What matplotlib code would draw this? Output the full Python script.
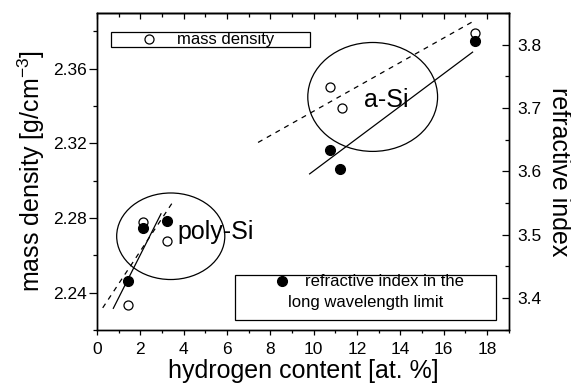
import matplotlib
matplotlib.use('Agg')
import matplotlib.pyplot as plt
from matplotlib.patches import Ellipse, Rectangle
from matplotlib.ticker import MultipleLocator

plt.rcParams['font.family'] = ['Liberation Sans', 'DejaVu Sans']
plt.rcParams['mathtext.fontset'] = 'custom'
plt.rcParams['mathtext.rm'] = 'Liberation Sans'

# mass density (open circles, left axis)
h_dens = [1.43, 2.10, 3.25, 10.73, 11.29, 17.43]
density = [2.2336, 2.278, 2.2675, 2.3505, 2.339, 2.379]
# refractive index (filled circles, right axis)
h_ref = [1.44, 2.10, 3.25, 10.73, 11.23, 17.43]
ref_index = [3.427, 3.510, 3.521, 3.634, 3.603, 3.806]

# fit lines (end points)
dens_fit_poly_x = [0.26, 3.55]
dens_fit_poly_y = [2.2318, 2.2895]
dens_fit_asi_x = [7.43, 17.48]
dens_fit_asi_y = [2.3205, 2.3862]
ref_fit_poly_x = [0.75, 2.95]
ref_fit_poly_y = [3.384, 3.533]
ref_fit_asi_x = [9.81, 17.33]
ref_fit_asi_y = [3.596, 3.788]

# group ellipses (centre x, centre y, width, height) in left-axis units
groups = ['poly-Si', 'a-Si']
ell_x = [3.40, 12.72]
ell_y = [2.2702, 2.3449]
ell_w = [4.99, 5.99]
ell_h = [0.0464, 0.0584]
lab_x = [3.73, 12.34]
lab_y = [2.2727, 2.3434]

fig = plt.figure(figsize=(5.71, 3.89), dpi=100)
ax = fig.add_axes([0.170, 0.152, 0.891 - 0.170, 0.967 - 0.152])
ax2 = ax.twinx()

ax.plot(h_dens, density, 'o', mfc='white', mec='black', ms=6.5, mew=0.9, zorder=5)
ax.plot(dens_fit_poly_x, dens_fit_poly_y, color='black', lw=0.9, dashes=(4, 4))
ax.plot(dens_fit_asi_x, dens_fit_asi_y, color='black', lw=0.9, dashes=(4, 4))

ax2.plot(h_ref, ref_index, 'o', color='black', ms=7, zorder=5)
ax2.plot(ref_fit_poly_x, ref_fit_poly_y, color='black', lw=0.9)
ax2.plot(ref_fit_asi_x, ref_fit_asi_y, color='black', lw=0.9)

for i in range(len(groups)):
    ax.add_patch(Ellipse((ell_x[i], ell_y[i]), ell_w[i], ell_h[i],
                         fill=False, ec='black', lw=0.9))
    ax.text(lab_x[i], lab_y[i], groups[i], fontsize=18, va='center', ha='left')

ax.set_xlim(0, 19)
ax.set_ylim(2.22, 2.39)
ax2.set_ylim(3.35, 3.85)

ax.xaxis.set_major_locator(MultipleLocator(2))
ax.xaxis.set_minor_locator(MultipleLocator(1))
ax.yaxis.set_major_locator(MultipleLocator(0.04))
ax.yaxis.set_minor_locator(MultipleLocator(0.02))
ax.yaxis.set_major_formatter(matplotlib.ticker.FormatStrFormatter('%.2f'))
ax2.yaxis.set_major_locator(MultipleLocator(0.1))
ax2.yaxis.set_minor_locator(MultipleLocator(0.05))
ax2.yaxis.set_major_formatter(matplotlib.ticker.FormatStrFormatter('%.1f'))

ax.tick_params(axis='x', which='major', direction='out', length=3.5, width=0.9,
               labelsize=12.5, pad=5)
ax.tick_params(axis='x', which='minor', direction='out', length=1.8, width=0.9)
ax.tick_params(axis='y', which='major', direction='out', length=5.5, width=0.9,
               labelsize=12.5, pad=2)
ax.tick_params(axis='y', which='minor', direction='out', length=3, width=0.9)
ax2.tick_params(axis='y', which='major', direction='in', length=5, width=0.9,
                labelsize=12.5, pad=6)
ax2.tick_params(axis='y', which='minor', direction='in', length=3, width=0.9)

top = ax.secondary_xaxis('top')
top.xaxis.set_major_locator(MultipleLocator(2))
top.xaxis.set_minor_locator(MultipleLocator(1))
top.tick_params(which='major', direction='in', length=4.5, width=0.9, labeltop=False)
top.tick_params(which='minor', direction='in', length=3, width=0.9)
top.spines['top'].set_linewidth(1.0)

for a in (ax, ax2):
    for s in a.spines.values():
        s.set_linewidth(1.0)

ax.set_xlabel('hydrogen content [at. %]', fontsize=18, labelpad=2)
ax.set_ylabel('mass density [g/cm$^{-3}$]', fontsize=18, labelpad=4)
ax2.set_ylabel('refractive index', fontsize=18, rotation=270, labelpad=21)

# legend box: mass density
ax2.add_patch(Rectangle((0.034, 0.892), 0.517 - 0.034, 0.941 - 0.892,
                        transform=ax2.transAxes, fill=False, ec='black', lw=0.9))
ax2.plot([0.126], [0.917], 'o', mfc='white', mec='black', ms=6.5, mew=0.9,
         transform=ax2.transAxes)
ax2.text(0.194, 0.917, 'mass density', transform=ax2.transAxes,
         fontsize=12, va='center', ha='left')

# legend box: refractive index
ax2.add_patch(Rectangle((0.335, 0.0315), 0.970 - 0.335, 0.1735 - 0.0315,
                        transform=ax2.transAxes, fill=False, ec='black', lw=0.9))
ax2.plot([0.448], [0.1555], 'o', color='black', ms=7, transform=ax2.transAxes)
ax2.text(0.505, 0.153, 'refractive index in the', transform=ax2.transAxes,
         fontsize=12, va='center', ha='left')
ax2.text(0.4636, 0.085, 'long wavelength limit', transform=ax2.transAxes,
         fontsize=12, va='center', ha='left')

fig.savefig('out.png', dpi=100)
